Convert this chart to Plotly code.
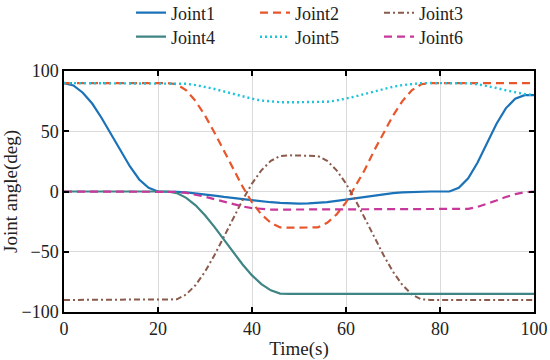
import plotly.graph_objects as go

time_s = list(range(0, 101, 2))

joint1 = [90, 88, 82, 73, 61, 48, 34, 21, 10, 3, 0,
          0, -0.3, -0.8, -1.5, -2.4, -3.4, -4.5, -5.5, -6.5, -7.3,
          -8.2, -8.9, -9.5, -9.9, -10, -9.9, -9.5, -8.8, -7.8, -6.7,
          -5.4, -4.2, -3.1, -2.2, -1.4, -0.8, -0.4, -0.1, 0, 0,
          0, 3, 11, 24, 40, 56, 69, 77, 80, 80]
joint2 = [90, 90, 90, 90, 90, 90, 90, 90, 90, 90, 90,
          90, 89, 84, 75, 63, 49, 34, 18, 4, -9,
          -19, -26, -29.8, -30, -30, -30, -29.8, -26, -19, -9,
          4, 18, 34, 49, 63, 75, 84, 89, 90, 90,
          90, 90, 90, 90, 90, 90, 90, 90, 90, 90]
joint3 = [-90, -90, -90, -90, -90, -90, -90, -90, -90, -90, -90,
          -90, -89.5, -85.4, -77.6, -66.6, -52.9, -37.8, -22.2, -7.1, 6.6,
          17.6, 25.4, 29.5, 30, 30, 30, 29.5, 25.4, 17.6, 6.6,
          -7.1, -22.2, -37.8, -52.9, -66.6, -77.6, -85.4, -89.5, -90, -90,
          -90, -90, -90, -90, -90, -90, -90, -90, -90, -90]
joint4 = [0, 0, 0, 0, 0, 0, 0, 0, 0, 0, 0,
          0, -1.3, -5.3, -11.5, -19.7, -29.4, -39.8, -50.5, -60.6, -69.6,
          -76.9, -82, -84.7, -85, -85, -85, -85, -85, -85, -85,
          -85, -85, -85, -85, -85, -85, -85, -85, -85, -85,
          -85, -85, -85, -85, -85, -85, -85, -85, -85, -85]
joint5 = [90, 90, 90, 90, 90, 90, 90, 90, 90, 90, 90,
          90, 89.9, 89.4, 88.3, 86.9, 85.1, 83.1, 81.0, 78.9, 77.0,
          75.5, 74.5, 74.1, 74, 74, 74, 74.1, 74.5, 75.5, 77.0,
          78.9, 81.0, 83.1, 85.1, 86.9, 88.3, 89.4, 89.9, 90, 90,
          90, 90, 89.8, 89, 87.6, 85.9, 84, 82.2, 80.8, 80.1, 80]
joint6 = [0, 0, 0, 0, 0, 0, 0, 0, 0, 0, 0,
          0, -0.3, -1.2, -2.6, -4.3, -6.4, -8.6, -10.7, -12.4, -13.8,
          -14.7, -15, -15, -15, -15, -15, -15, -15, -15, -15,
          -15, -15, -15, -15, -15, -15, -15, -15, -15, -15,
          -15, -15, -14.4, -12.8, -10.4, -7.5, -4.6, -2.2, -0.6, 0, 0]

names = ["Joint1", "Joint2", "Joint3", "Joint4", "Joint5", "Joint6"]
series = [joint1, joint2, joint3, joint4, joint5, joint6]
colors = ["#1B72B8", "#E8562C", "#8A5A4C", "#3E8584", "#1CC4DC", "#C8379A"]
dashes = ["solid", "8px,5px", "6px,3px,2px,3px", "solid", "2px,3px", "8px,5px"]
widths = [2.2, 2.2, 2.0, 2.2, 2.4, 2.2]
legends = ["legend", "legend", "legend", "legend2", "legend2", "legend2"]

FONT = "Liberation Serif"
W, H = 550, 360

fig = go.Figure()
for n, s, c, d, w, lg in zip(names, series, colors, dashes, widths, legends):
    fig.add_trace(go.Scatter(x=time_s, y=s, mode="lines", name=n,
                             line=dict(color=c, dash=d, width=w), legend=lg))

axis_common = dict(showline=True, linecolor="black", linewidth=1.5, mirror="ticks",
                   ticks="inside", ticklen=5, tickwidth=1.5, tickcolor="black",
                   showgrid=True, gridcolor="#dadada", gridwidth=1, zeroline=False,
                   automargin=False,
                   tickfont=dict(family=FONT, size=18, color="#222"),
                   title_font=dict(family=FONT, size=19, color="#222"))

fig.update_xaxes(range=[0, 100], tickvals=[0, 20, 40, 60, 80, 100],
                 title_text="Time(s)", title_standoff=10, **axis_common)
fig.update_yaxes(range=[-100, 100], tickvals=[-100, -50, 0, 50, 100],
                 title_text="Joint angle(deg)", title_standoff=0, **axis_common)

leg_common = dict(orientation="h", xref="container", yref="container",
                  xanchor="left", yanchor="middle", entrywidth=79,
                  bgcolor="rgba(0,0,0,0)", font=dict(family=FONT, size=18, color="#222"))
fig.update_layout(
    width=W, height=H,
    margin=dict(l=64, r=16, t=71, b=48, autoexpand=False),
    paper_bgcolor="white", plot_bgcolor="white",
    font=dict(family=FONT, size=18, color="#222"),
    legend=dict(x=131 / W, y=1 - 13 / H, **leg_common),
    legend2=dict(x=131 / W, y=1 - 37 / H, **leg_common),
)

fig.write_html("out.html", config={"displayModeBar": False},
               post_script="document.body.style.margin='0px';")
